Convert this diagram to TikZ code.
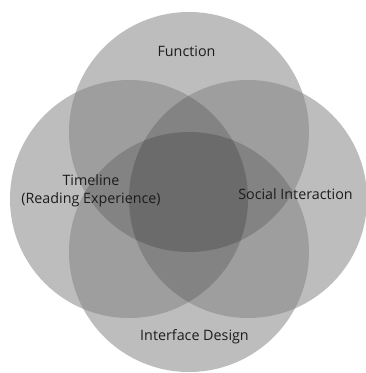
\documentclass[tikz,border=0pt]{standalone}
\usepackage{fontspec}
\newfontfamily\labfont{Open Sans}
\definecolor{layA}{HTML}{BDBDBD}
\definecolor{layB}{HTML}{9E9E9E}
\definecolor{layC}{HTML}{838383}
\definecolor{layD}{HTML}{6B6B6B}
\definecolor{labtext}{HTML}{1C1C1C}
\begin{document}
\begin{tikzpicture}[x=1pt,y=-1pt,
  lab/.style={font=\labfont\fontsize{14.3}{18.5}\selectfont, text=labtext, inner sep=0pt, align=center}]
\useasboundingbox (0,0) rectangle (366,373);
\fill[white] (0,0) rectangle (366,373);
\def\cT{(189,132) circle (120pt)}
\def\cB{(189,252) circle (120pt)}
\def\cL{(129,199) circle (119pt)}
\def\cR{(248,199) circle (119pt)}
% single layer
\fill[layA] \cT; \fill[layA] \cB; \fill[layA] \cL; \fill[layA] \cR;
% two layers
\begin{scope}\clip \cT; \fill[layB] \cB; \fill[layB] \cL; \fill[layB] \cR; \end{scope}
\begin{scope}\clip \cB; \fill[layB] \cL; \fill[layB] \cR; \end{scope}
\begin{scope}\clip \cL; \fill[layB] \cR; \end{scope}
% three layers
\begin{scope}\clip \cT; \clip \cB; \fill[layC] \cL; \fill[layC] \cR; \end{scope}
\begin{scope}\clip \cL; \clip \cR; \fill[layC] \cT; \fill[layC] \cB; \end{scope}
% four layers
\begin{scope}\clip \cT; \clip \cB; \clip \cL; \fill[layD] \cR; \end{scope}
% labels
\node[lab, anchor=base] (fn) at (186.5,56.7) {Function};
\node[lab, anchor=center] (tl) at (91,191) {Timeline\\(Reading Experience)};
\node[lab, anchor=base] (si) at (295.5,199) {Social Interaction};
\node[lab, anchor=base] (id) at (194.5,340) {Interface Design};
\end{tikzpicture}
\end{document}
